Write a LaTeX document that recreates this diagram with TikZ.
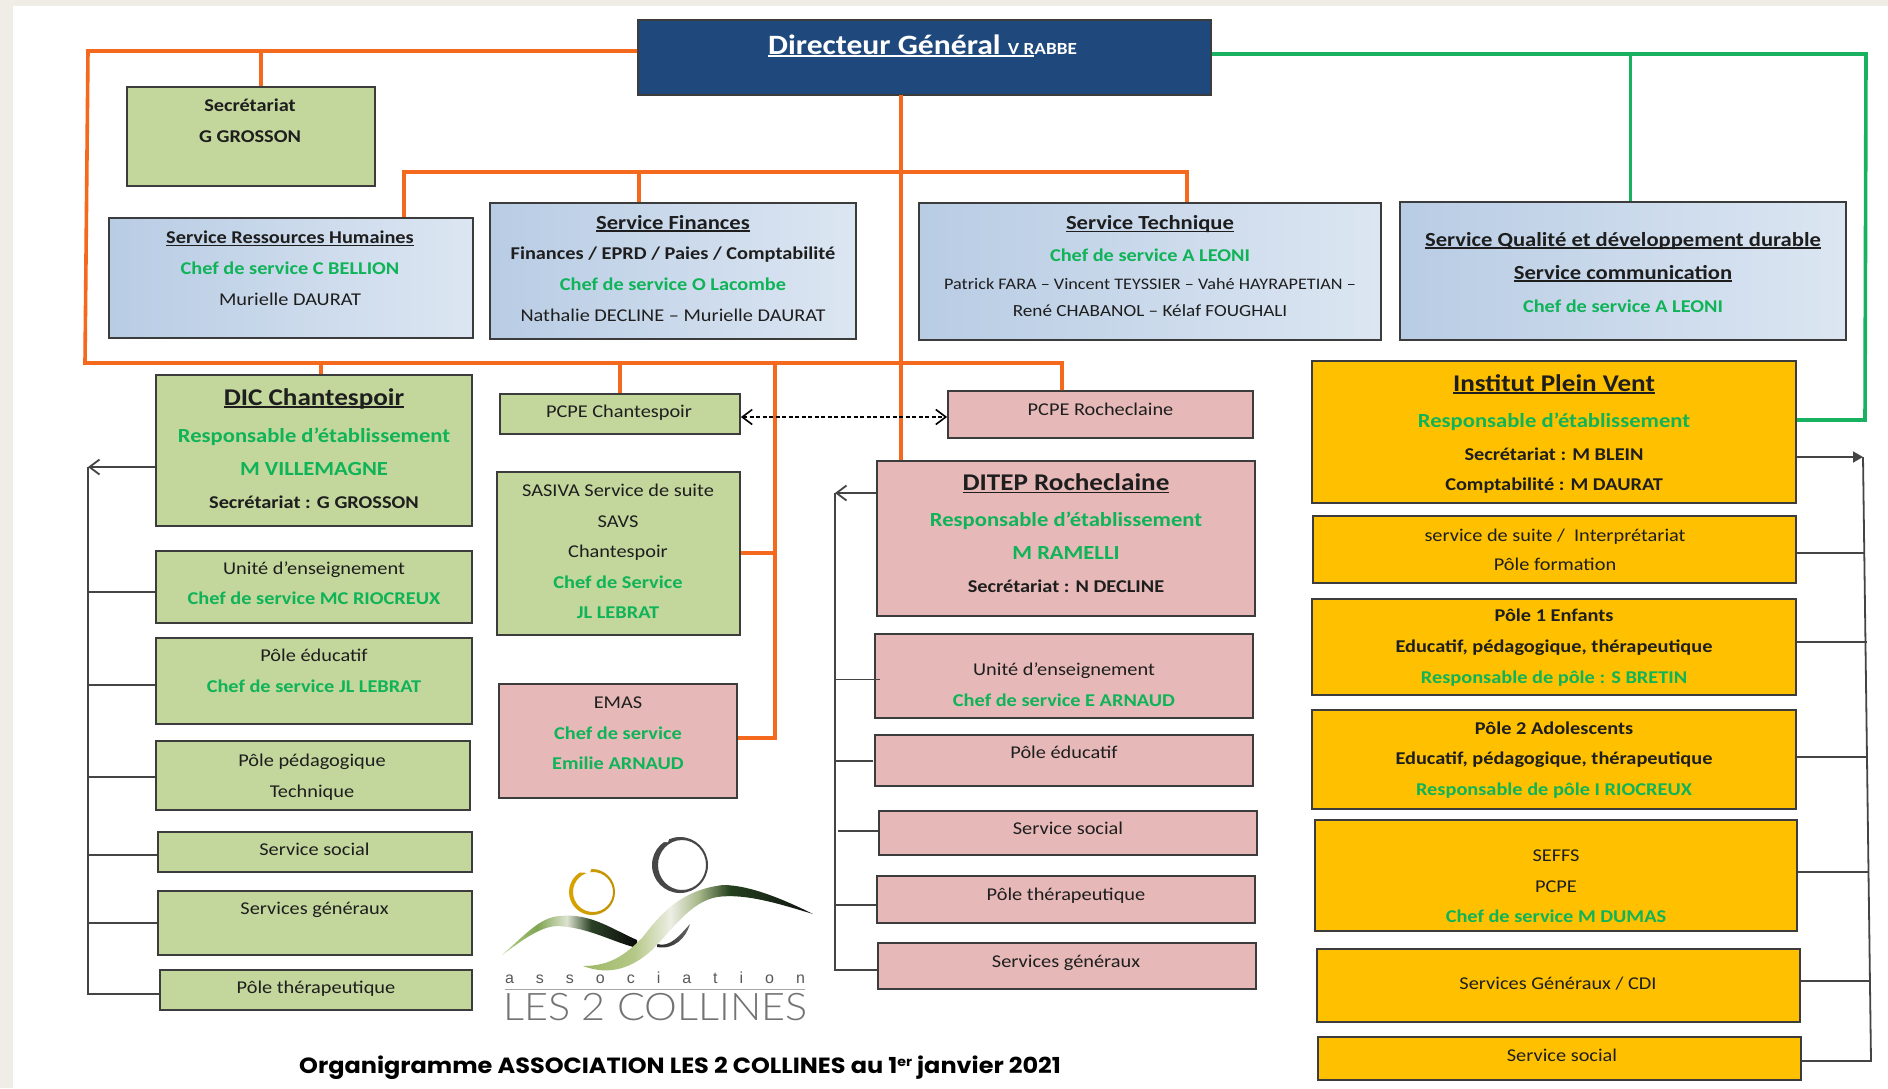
\documentclass[tikz,border=0pt]{standalone}
\usepackage{fontspec}
\setmainfont{Carlito}[FakeStretch=1.13]
\newfontfamily\logofont{Liberation Sans}
\newfontfamily\logothin{Lato Light}[FakeStretch=1.09]
\newfontfamily\titlefont{Poppins}[FakeStretch=1.09]
\usetikzlibrary{arrows.meta}
\definecolor{boxgreen}{HTML}{C3D69B}
\definecolor{boxpink}{HTML}{E6B9B8}
\definecolor{boxgold}{HTML}{FFC000}
\definecolor{boxnavy}{HTML}{1F497D}
\definecolor{boxedge}{HTML}{3C3C3C}
\definecolor{blueL}{HTML}{B8CCE4}
\definecolor{blueR}{HTML}{DCE6F2}
\definecolor{lineorange}{HTML}{F4691E}
\definecolor{linegreen}{HTML}{17B15F}
\definecolor{linegrey}{HTML}{444444}
\definecolor{txtgreen}{HTML}{0FB358}
\definecolor{band}{HTML}{EFEDE5}
\definecolor{txtdark}{HTML}{1E1E1E}
\definecolor{sa}{HTML}{B9CF8E}\definecolor{sb}{HTML}{7FA552}\definecolor{sc}{HTML}{DDE3CF}\definecolor{sd}{HTML}{2B4126}\definecolor{se}{HTML}{0A0A0A}
\definecolor{ta}{HTML}{9DB964}\definecolor{tb}{HTML}{B4C886}\definecolor{tc}{HTML}{EDEEE4}\definecolor{td}{HTML}{A9BA8C}\definecolor{te}{HTML}{24401E}\definecolor{tf}{HTML}{111111}
\pgfdeclarehorizontalshading{swooshL}{100bp}{color(0bp)=(sa); color(25bp)=(sa); color(38bp)=(sb); color(49bp)=(sc); color(58bp)=(sd); color(75bp)=(se); color(100bp)=(se)}
\pgfdeclarehorizontalshading{swooshB}{100bp}{color(0bp)=(ta); color(25bp)=(ta); color(36bp)=(tb); color(44bp)=(tc); color(50bp)=(td); color(57bp)=(te); color(75bp)=(tf); color(100bp)=(tf)}
\newcommand\ulin[1]{\setbox0=\hbox{#1}\leavevmode\rlap{\rule[-2.6pt]{\wd0}{1.4pt}}\box0}
\newcommand\fl{\rule[-4pt]{0pt}{13pt}}
\newcommand\gn[1]{{\bfseries\color{txtgreen}#1}}
\newcommand\hd[1]{\ulin{\bfseries #1}}
\newcommand\fsz[2]{\fontsize{#1}{#2}\selectfont}
\tikzset{
 x=1pt,y=-1pt,
 bxbase/.style={draw=boxedge,line width=1.8pt,rectangle,inner sep=0pt},
 bgreen/.style={bxbase,fill=boxgreen},
 bpink/.style={bxbase,fill=boxpink},
 bgold/.style={bxbase,fill=boxgold},
 bnavy/.style={bxbase,fill=boxnavy},
 bblue/.style={bxbase,left color=blueL,right color=blueR},
 lbl/.style={anchor=north,align=center,inner sep=0pt,text=txtdark},
 linkO/.style={draw=lineorange,line width=3.6pt},
 linkG/.style={draw=linegreen,line width=3.6pt},
 linkK/.style={draw=linegrey,line width=1.8pt},
}
\newcommand\bx[6]{\node[#2,minimum width={(#5-#3)*1pt},minimum height={(#6-#4)*1pt}] (#1) at ({(#3+#5)/2},{(#4+#6)/2}) {};}
\begin{document}
\begin{tikzpicture}
\useasboundingbox (0,0) rectangle (1888,1088);
\fill[white] (0,0) rectangle (1888,1088);
\fill[band] (0,0) rectangle (1888,6);
\fill[band] (0,0) rectangle (13,1088);
% boxes
\bx{dg}{bnavy}{638}{20}{1211}{95}
\bx{sec}{bgreen}{127}{87}{375}{186}
\bx{rh}{bblue}{109}{218}{473}{338}
\bx{fin}{bblue}{490}{203}{856}{339}
\bx{tech}{bblue}{919}{203}{1381}{340}
\bx{qual}{bblue}{1400}{202}{1846}{340}
\bx{dic}{bgreen}{156}{375}{472}{526}
\bx{lue}{bgreen}{156}{551}{472}{623}
\bx{lped}{bgreen}{156}{638}{472}{724}
\bx{lpp}{bgreen}{156}{741}{470}{810}
\bx{lss}{bgreen}{158}{832}{472}{872}
\bx{lsg}{bgreen}{158}{891}{472}{955}
\bx{lpt}{bgreen}{160}{970}{472}{1010}
\bx{pch}{bgreen}{500}{394}{740}{434}
\bx{sas}{bgreen}{497}{472}{740}{635}
\bx{emas}{bpink}{499}{684}{737}{798}
\bx{pro}{bpink}{948}{391}{1253}{438}
\bx{dit}{bpink}{877}{461}{1255}{616}
\bx{mue}{bpink}{875}{634}{1253}{718}
\bx{med}{bpink}{875}{735}{1253}{786}
\bx{mss}{bpink}{879}{811}{1257}{855}
\bx{mpt}{bpink}{877}{876}{1255}{923}
\bx{msg}{bpink}{878}{943}{1256}{989}
\bx{ipv}{bgold}{1312}{361}{1796}{503}
\bx{rsu}{bgold}{1313}{516}{1796}{583}
\bx{rp1}{bgold}{1312}{599}{1796}{695}
\bx{rp2}{bgold}{1312}{710}{1796}{809}
\bx{rse}{bgold}{1315}{820}{1797}{931}
\bx{rsg}{bgold}{1317}{949}{1800}{1022}
\bx{rss}{bgold}{1318}{1037}{1801}{1080}
% junction points
\coordinate (otl) at (88,51);
\coordinate (obl) at (85,363);
\coordinate (obr) at (1062,363);
\coordinate (osr) at (404,172);
\coordinate (ost) at (1187,172);
\coordinate (ocx) at (901,95);
\coordinate (osec) at (261,51);
\coordinate (ofin) at (639,172);
\coordinate (odic) at (321,363);
\coordinate (opch) at (620,363);
\coordinate (ovt) at (775,363);
\coordinate (ovb) at (775,738);
\coordinate (ovs) at (775,553);
\coordinate (gtr) at (1866,54);
\coordinate (gbr) at (1865,420);
\coordinate (gq) at (1630.5,54);
\coordinate (kl) at (88,467);
\coordinate (klb) at (88,994);
\coordinate (km) at (835,493);
\coordinate (kmb) at (835,970);
\coordinate (kst) at (838,831);
\coordinate (krt) at (1863,457);
\coordinate (krb) at (1871,1061);
% orange
\draw[linkO] (otl -| dg.west) -- (otl) -- (obl) -- (obr) -- (obr |- pro.north);
\draw[linkO] (osec) -- (osec |- sec.north);
\draw[linkO] (ocx) -- (ocx |- dit.north);
\draw[linkO] (rh.north -| osr) -- (osr) -- (ost) -- (ost |- tech.north);
\draw[linkO] (ofin) -- (ofin |- fin.north);
\draw[linkO] (odic) -- (odic |- dic.north);
\draw[linkO] (opch) -- (opch |- pch.north);
\draw[linkO] (ovt) -- (ovb) -- (ovb -| emas.east);
\draw[linkO] (ovs) -- (ovs -| sas.east);
% green
\draw[linkG] (gtr -| dg.east) -- (gtr) -- (gbr) -- (gbr -| ipv.east);
\draw[linkG] (gq) -- (gq |- qual.north);
% black left
\draw[linkK,-{Straight Barb[length=10pt,width=15pt]}] (kl -| dic.west) -- (kl);
\draw[linkK] (kl) -- (klb) -- (klb -| lpt.west);
\draw[linkK] (88,592) -- (88,592 -| lue.west);
\draw[linkK] (88,685) -- (88,685 -| lped.west);
\draw[linkK] (88,777) -- (88,777 -| lpp.west);
\draw[linkK] (88,855) -- (88,855 -| lss.west);
\draw[linkK] (88,923) -- (88,923 -| lsg.west);
% black middle
\draw[linkK,-{Straight Barb[length=10pt,width=15pt]}] (km -| dit.west) -- (km);
\draw[linkK] (km) -- (kmb) -- (kmb -| msg.west);
\draw[linkK] (835,679.5) -- (880,679.5);
\draw[linkK] (835,761) -- (873,761);
\draw[linkK] (kst) -- (kst -| mss.west);
\draw[linkK] (835,905) -- (835,905 -| mpt.west);
% black right
\draw[linkK,-{Triangle[length=10pt,width=11pt]}] (krt -| ipv.east) -- (krt);
\draw[linkK] (krt) -- (krb) -- (krb -| rss.east);
\draw[linkK] (1865,553) -- (1865,553 -| rsu.east);
\draw[linkK] (1866.5,642) -- (1866.5,642 -| rp1.east);
\draw[linkK] (1868,757) -- (1868,757 -| rp2.east);
\draw[linkK] (1869,872) -- (1869,872 -| rse.east);
\draw[linkK] (1870,981) -- (1870,981 -| rsg.east);
% dashed
\draw[black,line width=1.6pt,dash pattern=on 4pt off 2.5pt,{Straight Barb[length=10pt,width=15pt]}-{Straight Barb[length=10pt,width=15pt]}] (pch.east |- 0,417) -- (pro.west |- 0,417);
% texts
\node[lbl,text=white,anchor=base west] (dgt) at (768,54) {\fsz{28}{30}\hd{Directeur Général {\fsz{17}{20}V R}}{\bfseries\fsz{17}{20}ABBE}};
\node[lbl,font=\fsz{18}{31}] (sect) at (250,99) {\fl\bfseries Secrétariat\\\bfseries G GROSSON};
\node[lbl,font=\fsz{18}{31}] (rht) at (290,230.5) {\fl\hd{Service Ressources Humaines}\\\gn{Chef de service C BELLION}\\Murielle DAURAT};
\node[lbl,font=\fsz{18}{30.6}] (fint) at (673,215) {\fl\fsz{20}{31}\hd{Service Finances}\\\fsz{18}{31}\bfseries Finances / EPRD / Paies / Comptabilité\\\gn{Chef de service O Lacombe}\\Nathalie DECLINE – Murielle DAURAT};
\node[lbl,font=\fsz{17}{28}] (techt) at (1150,215.5) {\fl\fsz{20}{33}\hd{Service Technique}\\[4pt]\fsz{18}{28}\gn{Chef de service A LEONI}\\\fsz{16.1}{28}Patrick FARA – Vincent TEYSSIER – Vahé HAYRAPETIAN –\\[-1pt]René CHABANOL – Kélaf FOUGHALI};
\node[lbl,font=\fsz{20}{33}] (qualt) at (1623,232) {\fl\hd{Service Qualité et développement durable}\\\hd{Service communication}\\\fsz{18}{33}\gn{Chef de service A LEONI}};
\node[lbl,font=\fsz{19}{33}] (dict) at (314,388) {\fl\fsz{24}{33}\hd{DIC Chantespoir}\\[4pt]\fsz{20}{33}\gn{Responsable d’établissement}\\\fsz{20}{33}\gn{M VILLEMAGNE}\\\fsz{18}{33}\bfseries Secrétariat : G GROSSON};
\node[lbl,font=\fsz{18}{30}] (luet) at (314,561.5) {\fl Unité d’enseignement\\\gn{Chef de service MC RIOCREUX}};
\node[lbl,font=\fsz{18}{31}] (lpedt) at (314,648.5) {\fl Pôle éducatif\\\gn{Chef de service JL LEBRAT}};
\node[lbl,font=\fsz{18}{31}] (lppt) at (312,753.5) {\fl Pôle pédagogique\\Technique};
\node[lbl,font=\fsz{18}{31}] (lsst) at (314.5,842.8) {\fl Service social};
\node[lbl,font=\fsz{18}{31}] (lsgt) at (314.5,902) {\fl Services généraux};
\node[lbl,font=\fsz{18}{31}] (lptt) at (316,981) {\fl Pôle thérapeutique};
\node[lbl,font=\fsz{18}{31}] (pcht) at (619,405) {\fl PCPE Chantespoir};
\node[lbl,font=\fsz{18}{30.5}] (sast) at (618,484) {\fl SASIVA Service de suite\\SAVS\\Chantespoir\\\gn{Chef de Service}\\\gn{JL LEBRAT}};
\node[lbl,font=\fsz{18}{30.5}] (emast) at (618,697) {\fl EMAS\\\gn{Chef de service}\\\gn{Emilie ARNAUD}};
\node[lbl,font=\fsz{18}{31}] (prot) at (1100.5,402.5) {\fl PCPE Rocheclaine};
\node[lbl,font=\fsz{19}{33}] (ditt) at (1066,473.5) {\fl\fsz{24}{33}\hd{DITEP Rocheclaine}\\[3pt]\fsz{20}{33}\gn{Responsable d’établissement}\\\fsz{20}{33}\gn{M RAMELLI}\\\fsz{18}{33}\bfseries Secrétariat : N DECLINE};
\node[lbl,font=\fsz{18}{31}] (muet) at (1064,662.5) {\fl Unité d’enseignement\\\gn{Chef de service E ARNAUD}};
\node[lbl,font=\fsz{18}{31}] (medt) at (1064,746) {\fl Pôle éducatif};
\node[lbl,font=\fsz{18}{31}] (msst) at (1068,821.5) {\fl Service social};
\node[lbl,font=\fsz{18}{31}] (mptt) at (1066,888) {\fl Pôle thérapeutique};
\node[lbl,font=\fsz{18}{31}] (msgt) at (1066,955) {\fl Services généraux};
\node[lbl,font=\fsz{19}{33}] (ipvt) at (1554,374) {\fl\fsz{24}{33}\hd{Institut Plein Vent}\\[3pt]\fsz{20}{33}\gn{Responsable d’établissement}\\\fsz{18}{33}\bfseries Secrétariat : M BLEIN\\[-3pt]\fsz{18}{33}\bfseries Comptabilité : M DAURAT};
\node[lbl,font=\fsz{18}{29}] (rsut) at (1555,529) {\fl service de suite /\ \ Interprétariat\\Pôle formation};
\node[lbl,font=\fsz{18}{31}] (rp1t) at (1554,609) {\fl\bfseries Pôle 1 Enfants\\\bfseries Educatif, pédagogique, thérapeutique\\\gn{Responsable de pôle : S BRETIN}};
\node[lbl,font=\fsz{18}{30.5}] (rp2t) at (1554,721.5) {\fl\bfseries Pôle 2 Adolescents\\\bfseries Educatif, pédagogique, thérapeutique\\\gn{Responsable de pôle I RIOCREUX}};
\node[lbl,font=\fsz{18}{30.5}] (rset) at (1556,850) {\fl SEFFS\\PCPE\\\gn{Chef de service M DUMAS}};
\node[lbl,font=\fsz{18}{31}] (rsgt) at (1558,977) {\fl Services Généraux / CDI};
\node[lbl,font=\fsz{18}{31}] (rsst) at (1562,1049) {\fl Service social};
\node[lbl,anchor=base west,text=black] (titre) at (299,1073) {\titlefont\bfseries\fsz{22}{24}Organigramme ASSOCIATION LES 2 COLLINES au 1\raisebox{6.5pt}{\fsz{13}{13}er} janvier 2021};
% logo
\begin{scope}
\path[fill=black!80,even odd rule,fill opacity=.9] (680,865) circle [radius=28] (682,865) ellipse [x radius=24,y radius=25];
\path[fill=white] (660,830) -- (672,830) -- (668,842) -- (655,842) -- cycle;
\path[left color=boxgold!85!black,right color=boxgold!75!black,even odd rule] (592,892) circle [radius=23] (593,892) ellipse [x radius=20,y radius=20];
\path[fill=white] (572,862) -- (592,866) -- (590,873) -- (572,872) -- cycle;
\path[left color=black!85,right color=black!60,even odd rule] (657,944) .. controls (670,948) and (680,935) .. (690,924) .. controls (686,938) and (674,950) .. (657,947) -- cycle;
\shade[shading=swooshL] (502,955) .. controls (525,935) and (540,917) .. (560,916) .. controls (590,913) and (610,928) .. (637,940) -- (637,948) .. controls (610,941) and (590,928) .. (558,926) .. controls (540,926) and (520,942) .. (502,955) -- cycle;
\shade[shading=swooshB] (583,966) .. controls (610,966) and (625,955) .. (642,938) .. controls (660,915) and (680,890) .. (723,885) .. controls (750,885) and (785,900) .. (813,914) .. controls (780,904) and (745,893) .. (717,897) .. controls (690,902) and (672,930) .. (652,950) .. controls (632,968) and (610,976) .. (583,966) -- cycle;
\end{scope}
\node[inner sep=0pt,text=black!65,anchor=base] (la) at (655,983) {\logofont\fsz{16}{17}\makebox[300pt][s]{a\hfill s\hfill s\hfill o\hfill c\hfill i\hfill a\hfill t\hfill i\hfill o\hfill n}};
\draw[black!35,line width=.8pt] (la.south west |- 0,989.5) -- (la.south east |- 0,989.5);
\node[inner sep=0pt,text=black!55,anchor=base] (lb) at (655.5,1020) {\logothin\fsz{38}{40}LES 2 COLLINES};
\end{tikzpicture}
\end{document}
